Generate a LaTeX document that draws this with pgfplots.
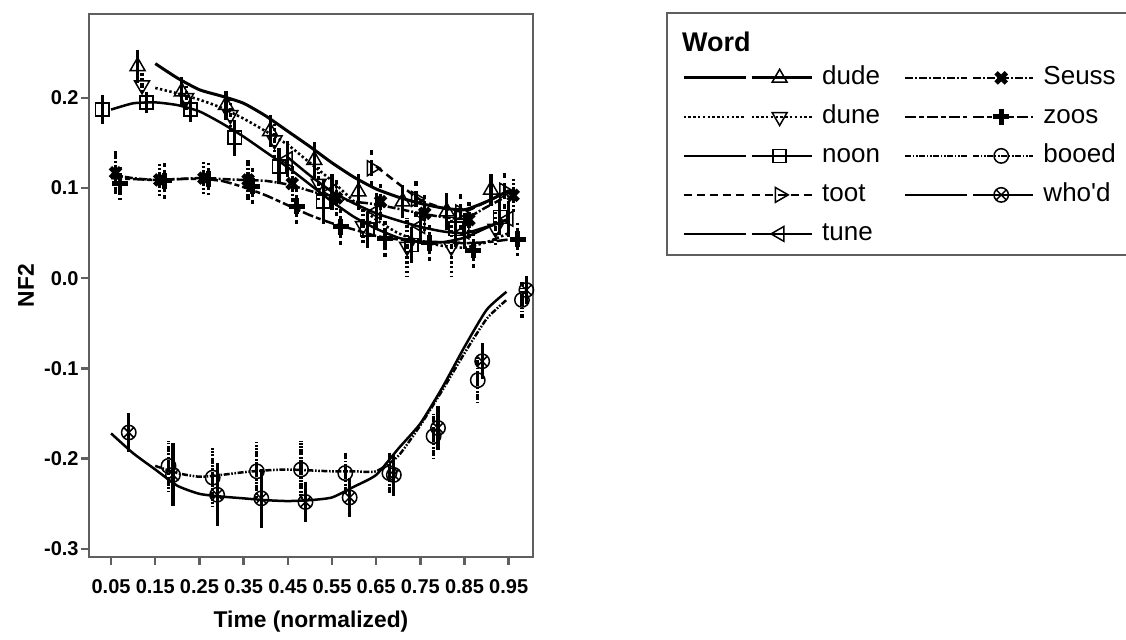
\documentclass[border=0pt]{standalone}
\usepackage{pgfplots}
\pgfplotsset{compat=1.18}
\usepackage{fontspec}
\setmainfont{Liberation Sans}
\usetikzlibrary{plotmarks}
\definecolor{axgray}{RGB}{95,95,95}
\tikzset{
 dudeS/.style={black, line width=1.5pt, solid},
 duneS/.style={black, line width=1.3pt, dash pattern=on 1.2pt off 1.2pt},
 noonS/.style={black, line width=1.25pt, solid},
 tootS/.style={black, line width=1.25pt, dash pattern=on 4pt off 2.5pt},
 tuneS/.style={black, line width=1.25pt, solid},
 seussS/.style={black, line width=1.25pt, dash pattern=on 4pt off 1pt on 1pt off 1pt},
 zoosS/.style={black, line width=1.25pt, dash pattern=on 5.5pt off 1.5pt on 2.5pt off 1.5pt},
 booedS/.style={black, line width=1.25pt, dash pattern=on 3pt off 0.8pt on 0.8pt off 0.8pt on 0.8pt off 0.8pt},
 whodS/.style={black, line width=1.25pt, solid},
 mkdude/.style={mark=triangle, mark size=4.3pt, mark options={solid, line width=0.75pt}},
 mkdune/.style={mark=triangle, mark size=4.3pt, mark options={solid, rotate=180, line width=0.75pt}},
 mknoon/.style={mark=square, mark size=3.3pt, mark options={solid, line width=0.75pt}},
 mktoot/.style={mark=triangle, mark size=4.3pt, mark options={solid, rotate=-90, line width=0.75pt}},
 mktune/.style={mark=triangle, mark size=4.3pt, mark options={solid, rotate=90, line width=0.75pt}},
 mkseuss/.style={mark=x, mark size=3.6pt, mark options={solid, line width=2.4pt}},
 mkzoos/.style={mark=+, mark size=4pt, mark options={solid, line width=2.4pt}},
 mkbooed/.style={mark=o, mark size=3.6pt, mark options={solid, line width=0.75pt}},
 mkwhod/.style={mark=otimes, mark size=3.6pt, mark options={solid, line width=0.75pt}},
}
\begin{document}
\begin{tikzpicture}
\begin{axis}[
 name=ax,
 scale only axis,
 width=222pt, height=271.5pt,
 xmin=0, xmax=1.005, ymin=-0.309, ymax=0.293,
 clip=false,
 axis line style={axgray, line width=1.2pt},
 tick style={axgray, line width=1.2pt},
 major tick length=4pt,
 tick align=outside,
 tick pos=left,
 xtick={0.05,0.15,0.25,0.35,0.45,0.55,0.65,0.75,0.85,0.95},
 xticklabels={0.05,0.15,0.25,0.35,0.45,0.55,0.65,0.75,0.85,0.95},
 ytick={-0.3,-0.2,-0.1,0,0.1,0.2},
 yticklabels={-0.3,-0.2,-0.1,0.0,0.1,0.2},
 tick label style={font=\fontsize{10}{12}\selectfont\bfseries, inner sep=1pt},
 xticklabel style={yshift=-6pt},
 xlabel={Time (normalized)},
 ylabel={NF2},
 label style={font=\fontsize{11.4}{13}\selectfont\bfseries},
 xlabel style={at={(axis description cs:0.5,-0.119)}, anchor=center},
 ylabel style={at={(axis description cs:-0.142,0.5)}, anchor=center},
 legend columns=2,
 legend cell align=left,
 legend image code/.code={
   \draw (0pt,0pt) -- (31pt,0pt);
   \draw[mark repeat=2,mark phase=2] plot coordinates {(34pt,0pt)(48pt,0pt)(64pt,0pt)};
 },
 legend style={at={(1.335,0.907)}, anchor=north west, draw=none, fill=none,
   inner sep=0pt, row sep=6.5pt, column sep=4.5pt,
   nodes={inner sep=0pt, text height=10pt, text depth=3pt, font=\fontsize{13}{15}\selectfont},
   /tikz/every even column/.append style={column sep=12pt}},
]
% ---------- smoothed lines ----------
\addplot[dudeS, smooth, tension=0.35, forget plot] coordinates {
(0.15,0.238)(0.20,0.222)(0.25,0.209)(0.30,0.202)(0.35,0.194)(0.40,0.180)(0.45,0.163)
(0.50,0.146)(0.55,0.128)(0.60,0.112)(0.65,0.099)(0.70,0.090)(0.75,0.083)(0.80,0.078)
(0.85,0.076)(0.90,0.085)(0.95,0.097)};
\addplot[duneS, smooth, tension=0.35, forget plot] coordinates {
(0.15,0.211)(0.20,0.205)(0.25,0.198)(0.30,0.189)(0.35,0.177)(0.40,0.163)(0.45,0.148)
(0.50,0.128)(0.55,0.108)(0.60,0.085)(0.65,0.065)(0.70,0.050)(0.75,0.041)(0.80,0.036)
(0.85,0.034)(0.90,0.040)(0.95,0.050)};
\addplot[noonS, smooth, tension=0.35, forget plot] coordinates {
(0.05,0.187)(0.10,0.194)(0.15,0.195)(0.20,0.192)(0.25,0.185)(0.30,0.172)(0.35,0.157)
(0.40,0.140)(0.45,0.123)(0.50,0.104)(0.55,0.085)(0.60,0.068)(0.65,0.055)(0.70,0.045)
(0.75,0.040)(0.80,0.040)(0.85,0.045)(0.90,0.056)(0.95,0.066)};
\addplot[tootS, smooth, tension=0.35, forget plot] coordinates {
(0.65,0.124)(0.70,0.105)(0.75,0.087)(0.80,0.078)(0.85,0.074)(0.90,0.085)(0.95,0.097)};
\addplot[tuneS, smooth, tension=0.35, forget plot] coordinates {
(0.45,0.134)(0.50,0.114)(0.55,0.096)(0.60,0.083)(0.65,0.072)(0.70,0.064)(0.75,0.057)
(0.80,0.052)(0.85,0.050)(0.90,0.057)(0.95,0.065)};
\addplot[seussS, smooth, tension=0.35, forget plot] coordinates {
(0.05,0.115)(0.10,0.111)(0.15,0.109)(0.20,0.110)(0.25,0.111)(0.30,0.110)(0.35,0.109)
(0.40,0.108)(0.45,0.104)(0.50,0.097)(0.55,0.090)(0.60,0.085)(0.65,0.082)(0.70,0.077)
(0.75,0.072)(0.80,0.068)(0.85,0.066)(0.90,0.079)(0.95,0.092)};
\addplot[zoosS, smooth, tension=0.35, forget plot] coordinates {
(0.05,0.111)(0.10,0.110)(0.15,0.109)(0.20,0.110)(0.25,0.110)(0.30,0.108)(0.35,0.101)
(0.40,0.092)(0.45,0.081)(0.50,0.070)(0.55,0.061)(0.60,0.054)(0.65,0.047)(0.70,0.043)
(0.75,0.041)(0.80,0.040)(0.85,0.039)(0.90,0.040)(0.95,0.043)};
\addplot[booedS, smooth, tension=0.35, forget plot] coordinates {
(0.15,-0.208)(0.20,-0.216)(0.25,-0.220)(0.30,-0.218)(0.35,-0.215)(0.40,-0.213)(0.45,-0.212)
(0.50,-0.213)(0.55,-0.214)(0.60,-0.214)(0.65,-0.214)(0.70,-0.197)(0.75,-0.163)(0.80,-0.124)
(0.85,-0.083)(0.90,-0.045)(0.945,-0.024)};
\addplot[whodS, smooth, tension=0.35, forget plot] coordinates {
(0.05,-0.172)(0.10,-0.194)(0.15,-0.212)(0.20,-0.230)(0.25,-0.239)(0.30,-0.242)(0.35,-0.244)
(0.40,-0.246)(0.45,-0.247)(0.50,-0.246)(0.55,-0.243)(0.60,-0.231)(0.65,-0.218)(0.70,-0.189)
(0.75,-0.161)(0.80,-0.121)(0.85,-0.076)(0.90,-0.035)(0.945,-0.015)};
% ---------- markers with error bars ----------
\addplot[dudeS, only marks, mkdude, forget plot, error bars/.cd, y dir=both, y explicit, error mark=none,
 error bar style={dudeS, line width=1.6pt}] coordinates {
(0.11,0.235)+-(0,0.018)(0.21,0.207)+-(0,0.016)(0.31,0.192)+-(0,0.016)(0.41,0.163)+-(0,0.018)
(0.51,0.131)+-(0,0.020)(0.61,0.096)+-(0,0.020)(0.71,0.085)+-(0,0.018)(0.81,0.074)+-(0,0.020)
(0.91,0.098)+-(0,0.018)};
\addplot[duneS, only marks, mkdune, forget plot, error bars/.cd, y dir=both, y explicit, error mark=none,
 error bar style={duneS, line width=1.6pt}] coordinates {
(0.12,0.214)+-(0,0.015)(0.22,0.200)+-(0,0.015)(0.32,0.181)+-(0,0.018)(0.42,0.153)+-(0,0.018)
(0.52,0.105)+-(0,0.020)(0.62,0.058)+-(0,0.020)(0.72,0.035)+-(0,0.032)(0.82,0.035)+-(0,0.033)
(0.92,0.055)+-(0,0.020)};
\addplot[noonS, only marks, mknoon, forget plot, error bars/.cd, y dir=both, y explicit, error mark=none,
 error bar style={noonS, line width=1.6pt}] coordinates {
(0.03,0.187)+-(0,0.016)(0.13,0.195)+-(0,0.012)(0.23,0.187)+-(0,0.014)(0.33,0.156)+-(0,0.020)
(0.43,0.124)+-(0,0.020)(0.53,0.085)+-(0,0.025)(0.63,0.054)+-(0,0.020)(0.73,0.037)+-(0,0.020)
(0.83,0.055)+-(0,0.020)(0.93,0.068)+-(0,0.020)};
\addplot[tootS, only marks, mktoot, forget plot, error bars/.cd, y dir=both, y explicit, error mark=none,
 error bar style={tootS, line width=1.6pt}] coordinates {
(0.64,0.122)+-(0,0.020)(0.74,0.088)+-(0,0.020)(0.84,0.073)+-(0,0.020)(0.94,0.097)+-(0,0.020)};
\addplot[tuneS, only marks, mktune, forget plot, error bars/.cd, y dir=both, y explicit, error mark=none,
 error bar style={tuneS, line width=1.6pt}] coordinates {
(0.45,0.132)+-(0,0.020)(0.55,0.096)+-(0,0.020)(0.65,0.074)+-(0,0.020)(0.75,0.058)+-(0,0.020)
(0.85,0.052)+-(0,0.020)(0.95,0.066)+-(0,0.020)};
\addplot[seussS, only marks, mkseuss, forget plot, error bars/.cd, y dir=both, y explicit, error mark=none,
 error bar style={seussS, line width=1.6pt}] coordinates {
(0.06,0.117)+-(0,0.024)(0.16,0.109)+-(0,0.018)(0.26,0.111)+-(0,0.018)(0.36,0.109)+-(0,0.022)
(0.46,0.105)+-(0,0.020)(0.56,0.089)+-(0,0.020)(0.66,0.085)+-(0,0.020)(0.76,0.072)+-(0,0.020)
(0.86,0.065)+-(0,0.020)(0.96,0.092)+-(0,0.018)};
\addplot[zoosS, only marks, mkzoos, forget plot, error bars/.cd, y dir=both, y explicit, error mark=none,
 error bar style={zoosS, line width=1.6pt}] coordinates {
(0.07,0.105)+-(0,0.018)(0.17,0.108)+-(0,0.020)(0.27,0.110)+-(0,0.018)(0.37,0.102)+-(0,0.020)
(0.47,0.080)+-(0,0.020)(0.57,0.057)+-(0,0.020)(0.67,0.044)+-(0,0.020)(0.77,0.039)+-(0,0.020)
(0.87,0.031)+-(0,0.020)(0.97,0.043)+-(0,0.018)};
\addplot[booedS, only marks, mkbooed, forget plot, error bars/.cd, y dir=both, y explicit, error mark=none,
 error bar style={booedS, line width=1.6pt}] coordinates {
(0.18,-0.208)+-(0,0.028)(0.28,-0.221)+-(0,0.033)(0.38,-0.214)+-(0,0.032)(0.48,-0.212)+-(0,0.032)
(0.58,-0.216)+-(0,0.022)(0.68,-0.216)+-(0,0.023)(0.78,-0.175)+-(0,0.025)(0.88,-0.113)+-(0,0.026)
(0.98,-0.024)+-(0,0.020)};
\addplot[whodS, only marks, mkwhod, forget plot, error bars/.cd, y dir=both, y explicit, error mark=none,
 error bar style={whodS, line width=1.6pt}] coordinates {
(0.09,-0.171)+-(0,0.022)(0.19,-0.218)+-(0,0.035)(0.29,-0.240)+-(0,0.035)(0.39,-0.244)+-(0,0.033)
(0.49,-0.248)+-(0,0.022)(0.59,-0.243)+-(0,0.022)(0.69,-0.218)+-(0,0.023)(0.79,-0.166)+-(0,0.024)
(0.89,-0.092)+-(0,0.020)(0.99,-0.013)+-(0,0.015)};
% ---------- legend ----------
\addlegendimage{dudeS, mkdude}\addlegendentry{dude}
\addlegendimage{seussS, mkseuss}\addlegendentry{Seuss}
\addlegendimage{duneS, mkdune}\addlegendentry{dune}
\addlegendimage{zoosS, mkzoos}\addlegendentry{zoos}
\addlegendimage{noonS, mknoon}\addlegendentry{noon}
\addlegendimage{booedS, mkbooed}\addlegendentry{booed}
\addlegendimage{tootS, mktoot}\addlegendentry{toot}
\addlegendimage{whodS, mkwhod}\addlegendentry{who\textquotesingle d}
\addlegendimage{tuneS, mktune}\addlegendentry{tune}
\end{axis}
\draw[axgray, line width=1.2pt] ([xshift=288.85pt, yshift=0.35pt]ax.north west) rectangle ([xshift=525pt, yshift=151pt]ax.south west);
\node[anchor=west, inner sep=0pt, font=\fontsize{13.5}{15}\selectfont\bfseries] at ([xshift=296.35pt, yshift=-13.85pt]ax.north west) {Word};
\pgfresetboundingbox
\path[use as bounding box] (ax.south west) ++(-44.5pt,-41.5pt) rectangle ++(563pt,320pt);
\end{tikzpicture}
\end{document}
